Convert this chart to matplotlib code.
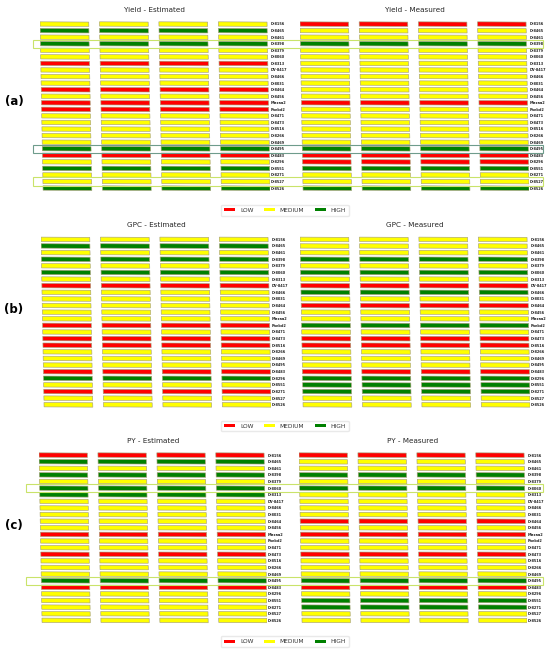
import matplotlib
matplotlib.use("Agg")
import matplotlib.pyplot as plt
from matplotlib.patches import Polygon, Patch, Rectangle
from matplotlib.transforms import blended_transform_factory

# genotype labels, top to bottom
genotypes = ["D-8156", "D-8465", "D-8461", "D-8398", "D-8379", "D-8060", "D-8313",
             "DV-8417", "D-8466", "D-8031", "D-8464", "D-8456", "Mirzaa2", "Pnebd2",
             "D-8471", "D-8473", "D-8516", "D-8266", "D-8469", "D-8495", "D-8483",
             "D-8296", "D-8551", "D-8271", "D-8527", "D-8526"]

# class per genotype: L = low, M = medium, H = high
yield_est = list("MHMHMMLMMMLMLLMMMMMHLMHMMH")
yield_meas = list("LMMHMMMMMMMMLMMMMMMHLLHMMH")
gpc_est = list("MHMHMHMLMMMMMLMLLMMMLHMLMM")
gpc_meas = list("MMMHMHMLHMLMMHMLLMMMLHHHMM")
py_est = list("LHMHMHHMMMMMLMMLMMMHLMMMMM")
py_meas = list("LMMHMHMMMMLMLMMLMMMHLMHHMM")

# highlighted genotypes (row index, colour)
yield_marks = [(3, "#c9e36a"), (19, "#6e9c8c"), (24, "#c9e36a")]
gpc_marks = []
py_marks = [(5, "#c9e36a"), (19, "#c9e36a")]

colors = {"L": "#ff0000", "M": "#ffff00", "H": "#008000"}
n_cols = 4
W, H = 550, 652

fig = plt.figure(figsize=(5.5, 6.52), dpi=100)


def px_rect(x0, x1, y0, y1):
    return [x0 / W, 1 - y1 / H, (x1 - x0) / W, (y1 - y0) / H]


def draw_map(rect, classes, title):
    ax = fig.add_axes(rect)
    ax.patch.set_visible(False)
    n = len(classes)
    shear = 0.002
    bw, bh = 0.82, 0.66
    for i, c in enumerate(classes):
        for j in range(n_cols):
            x0 = j + shear * i
            pts = [(x0, i - bh / 2), (x0 + bw, i - bh / 2 + 0.04),
                   (x0 + bw + shear, i + bh / 2 + 0.04), (x0 + shear, i + bh / 2)]
            ax.add_patch(Polygon(pts, closed=True, facecolor=colors[c],
                                 edgecolor="#a8a27a", linewidth=0.45))
    ax.set_xlim(0, 3.87)
    ax.set_ylim(n - 0.5, -0.5)
    ax.set_xticks([])
    ax.yaxis.tick_right()
    ax.set_yticks(range(n))
    ax.set_yticklabels(genotypes, fontsize=2.5, fontweight="bold", color="#222222")
    ax.tick_params(axis="y", length=0, pad=0.8)
    for s in ax.spines.values():
        s.set_visible(False)
    ax.set_title(title, fontsize=5.2, color="#262626", pad=6.5)
    return ax


def legend_at(ypx):
    handles = [Patch(facecolor=colors[k], edgecolor="none", label=lab)
               for k, lab in zip("LMH", ["LOW", "MEDIUM", "HIGH"])]
    leg = fig.legend(handles=handles, loc="center", ncol=3,
                     bbox_to_anchor=(285 / W, 1 - ypx / H), fontsize=4.2,
                     handlelength=1.9, handleheight=0.45, handletextpad=0.8,
                     columnspacing=1.8, borderpad=0.5, frameon=True,
                     fancybox=True, edgecolor="#e4e4e4")
    for t in leg.get_texts():
        t.set_color("#333333")


def marks(ax, rows, x0, x1):
    tr = blended_transform_factory(fig.transFigure, ax.transData)
    for r, col in rows:
        fig.add_artist(Rectangle((x0 / W, r - 0.62), (x1 - x0) / W, 1.24,
                                 transform=tr, fill=False, edgecolor=col,
                                 linewidth=0.8))


panels = [
    ("(a)", "Yield", yield_est, yield_meas, yield_marks, 20.7, 191.3,
     (40, 270), (300, 529), 101, 210.5, (33, 543)),
    ("(b)", "GPC", gpc_est, gpc_meas, gpc_marks, 236.0, 408.0,
     (41, 271), (300, 530), 310, 426, (33, 543)),
    ("(c)", "PY", py_est, py_meas, py_marks, 451.7, 623.6,
     (39, 267), (299, 527), 526, 641.7, (26, 543)),
]

for lab, name, est, meas, mk, top, bot, xl, xr, ylab, yleg, xbox in panels:
    axl = draw_map(px_rect(xl[0], xl[1], top, bot), est, name + " - Estimated")
    draw_map(px_rect(xr[0], xr[1], top, bot), meas, name + " - Measured")
    marks(axl, mk, xbox[0], xbox[1])
    fig.text(14 / W, 1 - ylab / H, lab, fontsize=8.5, fontweight="bold",
             ha="center", va="center")
    legend_at(yleg)

fig.savefig("out.png", dpi=100)
